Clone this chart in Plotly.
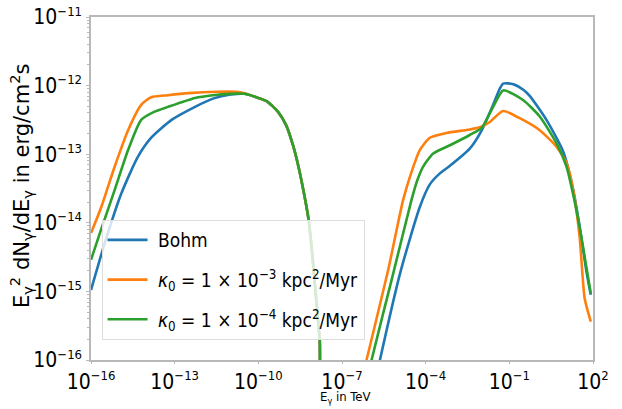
import numpy as np
import plotly.graph_objects as go

# log10 of photon energy (TeV) and log10 of E^2 dN/dE (erg/cm^2 s)
bohm_logE = [-16.0, -15.51, -14.91, -14.32, -13.84, -13.11, -12.27, -11.63, -11.0, -10.5,
             -10.0, -9.69, -9.3, -9.0, -8.75, -8.55, -8.35, -8.2, -8.08, -7.95, -7.8, -7.65,
             -5.9, -5.64, -4.92, -4.21, -3.85, -3.49, -3.13, -2.42, -2.0, -1.58, -1.35, -1.22,
             -0.86, -0.5, -0.27, 0.33, 0.93, 1.28, 1.52, 1.76, 1.92]
bohm_logF = [-14.98, -14.3, -13.57, -13.04, -12.76, -12.5, -12.31, -12.19, -12.13, -12.12,
             -12.18, -12.23, -12.38, -12.58, -12.88, -13.2, -13.6, -13.95, -14.4, -15.0, -15.7, -16.5,
             -16.5, -16.0, -14.74, -13.77, -13.44, -13.28, -13.17, -12.92, -12.66, -12.28, -12.05, -11.97,
             -11.98, -12.06, -12.15, -12.5, -12.96, -13.5, -14.05, -14.7, -15.05]

k3_logE = [-16.0, -15.63, -15.15, -14.67, -14.2, -13.84, -13.24, -12.5, -11.5, -10.8, -10.5,
           -10.0, -9.69, -9.3, -9.0, -8.75, -8.55, -8.35, -8.2, -8.08, -7.95, -7.8, -7.65,
           -6.4, -6.12, -5.34, -4.81, -4.5, -4.21, -3.85, -3.25, -2.42, -2.0, -1.7, -1.22,
           -0.51, 0.09, 0.69, 1.05, 1.28, 1.52, 1.7, 1.92]
k3_logF = [-14.15, -13.77, -13.18, -12.65, -12.28, -12.17, -12.14, -12.11, -12.09, -12.09, -12.11,
           -12.18, -12.23, -12.38, -12.58, -12.88, -13.2, -13.6, -13.95, -14.4, -15.0, -15.7, -16.5,
           -16.5, -16.0, -14.68, -13.67, -13.25, -12.94, -12.76, -12.69, -12.64, -12.6, -12.53, -12.37,
           -12.5, -12.65, -12.89, -13.13, -13.5, -14.2, -15.1, -15.44]

k4_logE = [-16.0, -15.64, -15.15, -14.67, -14.2, -13.72, -13.24, -12.27, -11.63, -11.0, -10.5,
           -10.0, -9.69, -9.3, -9.0, -8.75, -8.55, -8.35, -8.2, -8.08, -7.95, -7.8, -7.65,
           -6.2, -5.94, -5.2, -4.51, -4.3, -4.09, -3.73, -3.13, -2.42, -2.0, -1.58, -1.22,
           -0.51, 0.09, 0.69, 1.05, 1.28, 1.52, 1.76, 1.92]
k4_logF = [-14.54, -14.1, -13.52, -12.94, -12.5, -12.38, -12.31, -12.18, -12.14, -12.12, -12.12,
           -12.18, -12.23, -12.38, -12.58, -12.88, -13.2, -13.6, -13.95, -14.4, -15.0, -15.7, -16.5,
           -16.5, -16.0, -14.8, -13.67, -13.38, -13.18, -12.99, -12.87, -12.72, -12.62, -12.31, -12.07,
           -12.21, -12.45, -12.84, -13.18, -13.57, -14.06, -14.64, -15.03]

x_tick_exps = [-16, -13, -10, -7, -4, -1, 2]
y_tick_exps = [-16, -15, -14, -13, -12, -11]

series_names = ["&nbsp;Bohm",
                "&nbsp;<i>κ</i><sub>0</sub> = 1 × 10<sup>−3</sup> kpc<sup>2</sup>/Myr",
                "&nbsp;<i>κ</i><sub>0</sub> = 1 × 10<sup>−4</sup> kpc<sup>2</sup>/Myr"]
series_colors = ["#1f77b4", "#ff7f0e", "#2ca02c"]
x_title = "E<sub>γ</sub> in TeV"
y_title = "E<sub>γ</sub><sup>2</sup> dN<sub>γ</sub>/dE<sub>γ</sub> in erg/cm<sup>2</sup>s"


def pow_label(e):
    s = str(e).replace("-", "−")
    return "10<sup><span style='font-size:13px'>" + s + "</span></sup>"


fig = go.Figure()
for name, color, lx, ly in zip(series_names, series_colors,
                               [bohm_logE, k3_logE, k4_logE],
                               [bohm_logF, k3_logF, k4_logF]):
    fig.add_trace(go.Scatter(
        x=np.power(10.0, lx), y=np.power(10.0, ly), mode="lines", name=name,
        legendgroup=name,
        line=dict(color=color, width=2.6, shape="spline", smoothing=0.6)))

axis_line = "#b8b8b8"
cond = "DejaVu Sans Condensed, Liberation Sans Narrow, DejaVu Sans"
fig.update_layout(
    width=622, height=409,
    margin=dict(l=91, r=29, t=17, b=49),
    paper_bgcolor="white", plot_bgcolor="white",
    font=dict(family=cond, color="black"),
    showlegend=True,
    legend=dict(x=0.021, y=0.408, xanchor="left", yanchor="top",
                bgcolor="rgba(255,255,255,0.8)", bordercolor="#dddddd", borderwidth=1,
                font=dict(size=19, family=cond), tracegroupgap=12, itemwidth=40),
    xaxis=dict(type="log", range=[-16, 2],
               tickvals=[10.0 ** e for e in x_tick_exps],
               ticktext=[pow_label(e) for e in x_tick_exps],
               automargin=False,
               showgrid=False, zeroline=False, showline=True, linecolor=axis_line, linewidth=1.5,
               mirror=True, ticks="outside", ticklen=2, tickcolor=axis_line,
               tickfont=dict(size=21, family=cond)),
    yaxis=dict(type="log", range=[-16, -11],
               tickvals=[10.0 ** e for e in y_tick_exps],
               ticktext=[pow_label(e) for e in y_tick_exps],
               automargin=False,
               showgrid=False, zeroline=False, showline=True, linecolor=axis_line, linewidth=1.5,
               mirror=True, ticks="outside", ticklen=3, tickcolor=axis_line,
               minor=dict(ticks="outside", ticklen=2, tickcolor=axis_line,
                          tickvals=[k * 10.0 ** e for e in y_tick_exps[:-1] for k in range(2, 10)]),
               tickfont=dict(size=21, family=cond)),
    annotations=[
        dict(text=x_title, xref="paper", yref="paper", x=0.506, y=-0.108,
             xanchor="center", yanchor="middle", showarrow=False,
             font=dict(size=13, family=cond)),
        dict(text=y_title, xref="paper", yref="paper", x=-0.1394, y=0.507,
             xanchor="center", yanchor="middle", showarrow=False, textangle=-90,
             font=dict(size=21, family="DejaVu Sans")),
    ],
)

fig.write_html("out.html", config={"displayModeBar": False},
               post_script="document.body.style.margin='0';")
